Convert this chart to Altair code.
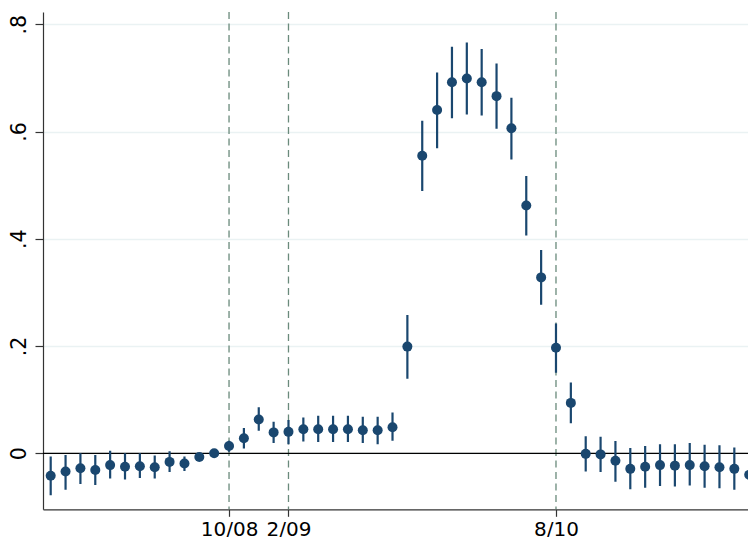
import altair as alt
import pandas as pd

# ---- data ----
period = list(range(48))  # monthly, 10/07 ... 9/11
coef = [-0.042, -0.034, -0.028, -0.031, -0.022, -0.025, -0.024, -0.026, -0.016, -0.019, -0.007, 0.0,
        0.0136, 0.028, 0.063, 0.039, 0.040, 0.045, 0.045, 0.045, 0.045, 0.043, 0.043, 0.0485,
        0.199, 0.555, 0.640, 0.692, 0.699, 0.692, 0.666, 0.606, 0.462, 0.328, 0.197, 0.094,
        -0.001, -0.002, -0.014, -0.029, -0.025, -0.022, -0.023, -0.022, -0.024, -0.026, -0.029, -0.040]
ci_high = [-0.006, -0.003, 0.0, -0.003, 0.005, 0.0, 0.0, -0.004, 0.004, -0.006, -0.002, 0.0,
           0.0235, 0.047, 0.086, 0.059, 0.062, 0.067, 0.070, 0.070, 0.070, 0.068, 0.068, 0.076,
           0.258, 0.620, 0.710, 0.758, 0.766, 0.754, 0.727, 0.663, 0.517, 0.379, 0.242, 0.132,
           0.032, 0.031, 0.023, 0.010, 0.0136, 0.017, 0.017, 0.019, 0.016, 0.015, 0.011, 0.0]
ci_low = [-0.078, -0.068, -0.057, -0.059, -0.047, -0.049, -0.046, -0.047, -0.035, -0.033, -0.012, 0.0,
          0.003, 0.009, 0.042, 0.019, 0.017, 0.022, 0.021, 0.021, 0.021, 0.019, 0.017, 0.0235,
          0.139, 0.489, 0.569, 0.625, 0.632, 0.630, 0.605, 0.548, 0.406, 0.277, 0.150, 0.056,
          -0.034, -0.035, -0.053, -0.067, -0.064, -0.061, -0.062, -0.060, -0.064, -0.065, -0.068, -0.080]
event_pos = [12, 16, 34]
event_labels = ["10/08", "2/09", "8/10"]
y_ticks = [0, 0.2, 0.4, 0.6, 0.8]
y_tick_labels = ["0", ".2", ".4", ".6", ".8"]

df = pd.DataFrame({"period": period, "coef": coef, "lo": ci_low, "hi": ci_high})
ev = pd.DataFrame({"period": event_pos})
zero = pd.DataFrame({"y": [0.0]})

navy = "#1a476f"
font = "DejaVu Sans"
xdom = [-0.518, 46.92]
ydom = [-0.1044, 0.8229]

x_expr = " : ".join(f"datum.value == {p} ? '{l}'" for p, l in zip(event_pos, event_labels)) + " : ''"
y_expr = " : ".join(f"abs(datum.value - {v}) < 1e-6 ? '{l}'" for v, l in zip(y_ticks, y_tick_labels)) + " : ''"

xscale = alt.Scale(domain=xdom, nice=False, zero=False)
yscale = alt.Scale(domain=ydom, nice=False, zero=False)

xaxis = alt.Axis(values=event_pos, labelExpr=x_expr, title=None, grid=False,
                 domainColor="#333333", domainWidth=1.2, tickColor="#333333", tickWidth=1.2,
                 tickSize=7, labelFont=font, labelFontSize=20, labelColor="#000000",
                 labelBaseline="alphabetic", labelPadding=19, labelOverlap=False, labelFlush=False)
yaxis = alt.Axis(values=y_ticks, labelExpr=y_expr, title=None, grid=True,
                 gridColor="#eaf2f3", gridWidth=1.5,
                 domainColor="#333333", domainWidth=1.2, tickColor="#333333", tickWidth=1.2,
                 tickSize=8, labelFont=font, labelFontSize=20.5, labelColor="#000000",
                 labelAngle=270, labelAlign="center", labelBaseline="alphabetic",
                 labelPadding=10, labelOverlap=False, labelFlush=False)

base = alt.Chart(df)

vlines = alt.Chart(ev).mark_rule(color="#6a8a7b", strokeWidth=1.3, strokeDash=[7, 4.5]).encode(
    x=alt.X("period:Q", scale=xscale, axis=xaxis),
)
zline = alt.Chart(zero).mark_rule(color="#000000", strokeWidth=1.3).encode(
    y=alt.Y("y:Q", scale=yscale, axis=yaxis),
)
bars = base.mark_rule(color=navy, strokeWidth=2.2, clip=True).encode(
    x=alt.X("period:Q", scale=xscale, axis=xaxis),
    y=alt.Y("lo:Q", scale=yscale, axis=yaxis),
    y2="hi:Q",
)
points = base.mark_circle(color=navy, size=100, opacity=1, clip=True).encode(
    x=alt.X("period:Q", scale=xscale, axis=xaxis),
    y=alt.Y("coef:Q", scale=yscale, axis=yaxis),
)

chart = alt.layer(vlines, zline, bars, points).properties(
    width=705,
    height=497.3,
    autosize=alt.AutoSizeParams(type="none"),
    padding={"left": 43, "top": 12, "right": 0, "bottom": 27.7},
    background="white",
).configure_view(stroke=None)

chart.save("out.html", embed_options={"renderer": "svg", "actions": False})
